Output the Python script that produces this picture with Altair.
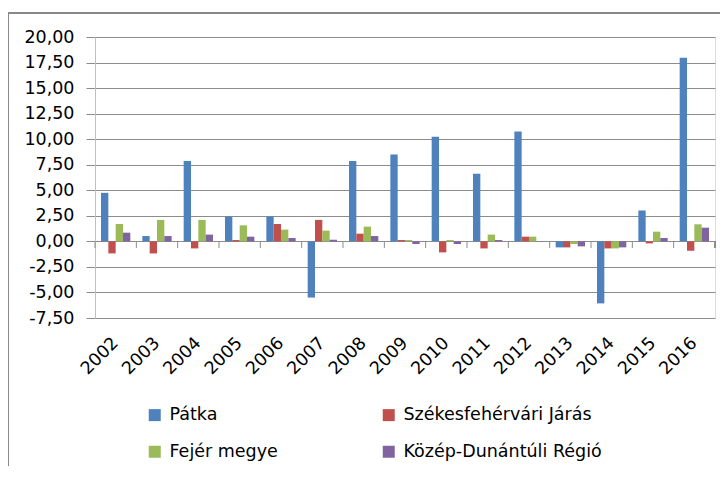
import altair as alt
import pandas as pd

years = ["2002", "2003", "2004", "2005", "2006", "2007", "2008", "2009",
         "2010", "2011", "2012", "2013", "2014", "2015", "2016"]
series_names = ["Pátka", "Székesfehérvári Járás", "Fejér megye", "Közép-Dunántúli Régió"]
patka = [4.75, 0.52, 7.87, 2.43, 2.43, -5.5, 7.87, 8.5, 10.23, 6.62, 10.75, -0.59, -6.07, 3.02, 17.97]
szekesfehervari = [-1.18, -1.18, -0.69, 0.13, 1.7, 2.1, 0.75, 0.13, -1.08, -0.69, 0.46, -0.59, -0.69, -0.2, -0.92]
fejer = [1.7, 2.1, 2.1, 1.57, 1.15, 1.05, 1.44, 0.13, 0.13, 0.66, 0.46, -0.26, -0.69, 0.95, 1.67]
kozep = [0.85, 0.52, 0.66, 0.46, 0.33, 0.16, 0.52, -0.26, -0.26, 0.13, 0.02, -0.49, -0.59, 0.33, 1.34]
series_colors = {"Pátka": "#4F81BD", "Székesfehérvári Járás": "#C0504D",
                 "Fejér megye": "#9BBB59", "Közép-Dunántúli Régió": "#8064A2"}
# legend fills column by column: order so rows read Pátka / Székesfehérvári, Fejér / Közép
legend_order = ["Pátka", "Fejér megye", "Székesfehérvári Járás", "Közép-Dunántúli Régió"]
y_ticks = [-7.5, -5, -2.5, 0, 2.5, 5, 7.5, 10, 12.5, 15, 17.5, 20]

rows = []
for name, vals in zip(series_names, [patka, szekesfehervari, fejer, kozep]):
    for y, v in zip(years, vals):
        rows.append({"year": y, "series": name, "value": v})
df = pd.DataFrame(rows)
df_years = pd.DataFrame({"year": years})

FONT = "DejaVu Sans"
FS = 17.5
GRID = "#8c8c8c"
W, H = 620, 281

xscale = alt.Scale(domain=years, paddingInner=0, paddingOuter=0)

bars = alt.Chart(df).mark_bar().encode(
    x=alt.X("year:N", scale=xscale, sort=years,
            axis=alt.Axis(title=None, labelAngle=-45, labelAlign="right",
                          labelBaseline="middle", labelPadding=22,
                          labelFont=FONT, labelFontSize=FS, labelColor="#000",
                          domain=False, ticks=False, grid=False)),
    xOffset=alt.XOffset("series:N", sort=series_names,
                        scale=alt.Scale(paddingOuter=0.82, paddingInner=0)),
    y=alt.Y("value:Q",
            scale=alt.Scale(domain=[-7.5, 20], nice=False, zero=False),
            axis=alt.Axis(title=None, values=y_ticks,
                          labelExpr="replace(replace(format(datum.value, '.2f'), '.', ','), '\u2212', '-')",
                          labelFont=FONT, labelFontSize=FS, labelColor="#000",
                          labelPadding=12, tickSize=9, tickColor=GRID,
                          domain=True, domainColor="#c0c0c0",
                          grid=True, gridColor=GRID, gridWidth=1)),
    color=alt.Color("series:N",
                    scale=alt.Scale(domain=legend_order,
                                    range=[series_colors[s] for s in legend_order]),
                    legend=alt.Legend(title=None, orient="none", legendX=51, legendY=369,
                                      columns=2, columnPadding=102, rowPadding=18,
                                      symbolType="square", symbolSize=144,
                                      symbolStrokeWidth=0, labelFont=FONT,
                                      labelFontSize=FS, labelColor="#000",
                                      labelOffset=6, labelLimit=400)),
)

zero_ticks = alt.Chart(df_years).mark_rule(color=GRID, strokeWidth=1).encode(
    x=alt.X("year:N", sort=years, bandPosition=0),
    y=alt.value(204), y2=alt.value(211),
)
end_tick = alt.Chart(df_years).mark_rule(color=GRID, strokeWidth=1).encode(
    x=alt.value(W), y=alt.value(204), y2=alt.value(211),
)
frame_left = alt.Chart(df_years).mark_rule(color="#888888", strokeWidth=1.5).encode(
    x=alt.value(-87), y=alt.value(-24), y2=alt.value(440),
)
frame_top = alt.Chart(df_years).mark_rule(color="#888888", strokeWidth=1.5).encode(
    x=alt.value(-87), x2=alt.value(W + 10), y=alt.value(-24),
)

chart = alt.layer(bars, zero_ticks, end_tick, frame_left, frame_top).properties(
    width=W, height=H,
    autosize=alt.AutoSizeParams(type="none"),
    padding={"left": 87, "top": 29, "right": 5, "bottom": 148},
).configure_view(stroke=None).configure(background="white")

chart.save("out.html", embed_options={"renderer": "svg", "actions": False})
